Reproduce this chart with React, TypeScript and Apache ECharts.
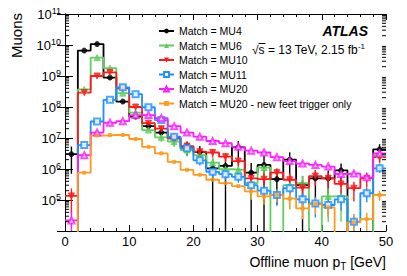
import React, { useEffect, useRef } from 'react';
import * as echarts from 'echarts';

// Histogram binning: 25 bins of 2 GeV from 0 to 50 GeV
const BIN_START = 0;
const BIN_WIDTH = 2;

// Muon counts per bin (0 = empty bin)
const mu4 = [3.0e6, 6.6e9, 1.07e10, 8.9e8, 1.5e8, 4.9e7, 2.4e7, 1.5e7, 9.8e6, 5.2e6, 3.5e6, 1.05e6, 1.26e6, 5.0e6, 7.6e5, 1.35e6, 4.7e5, 2.0e6, 3.0e5, 5.0e5, 5.0e5, 9.0e5, 0, 0, 4.3e6];
const mu4Err = [2.3e6, 0, 0, 0, 0, 0, 4e6, 5e6, 4e6, 2.5e6, 2e6, 1.1e6, 1.3e6, 3e6, 8e5, 1.4e6, 4e5, 1.5e6, 3e5, 4e5, 4e5, 6e5, 0, 0, 2e6];

const mu6 = [0, 3.7e8, 3.9e9, 1.8e9, 2.8e8, 6.6e7, 1.8e7, 1.05e7, 7.6e6, 4.1e6, 2.8e6, 1.6e6, 9.8e5, 9.4e5, 3.5e5, 1.1e6, 0, 3.0e5, 3.5e5, 0, 1.3e5, 1.3e5, 0, 0, 2.8e6];
const mu6Err = [0, 0, 0, 0, 0, 0, 0, 3e6, 2.5e6, 1.5e6, 1.2e6, 8e5, 5e5, 5e5, 2.5e5, 6e5, 0, 2.5e5, 2.5e5, 0, 1.1e5, 1.1e5, 0, 0, 1.5e6];

const mu10 = [1.35e5, 2.9e8, 1.0e9, 1.3e9, 4.0e8, 1.0e8, 3.0e7, 2.0e7, 1.0e7, 5.5e6, 3.6e6, 3.4e6, 2.5e6, 1.8e6, 5.0e5, 4.7e5, 7.6e5, 4.5e5, 2.5e5, 5.9e5, 5.0e5, 3.3e5, 2.4e5, 5.0e5, 2.4e6];
const mu10Err = [1e5, 0, 0, 0, 0, 0, 5e6, 4e6, 3e6, 1.5e6, 1e6, 1e6, 8e5, 6e5, 2.5e5, 2.5e5, 3e5, 3e5, 1.8e5, 3e5, 2.5e5, 2e5, 1.5e5, 2.5e5, 8e5];

const mu11 = [0, 5.9e6, 3.4e7, 1.7e8, 4.3e8, 2.6e8, 9.8e7, 3.8e7, 1.1e7, 4.7e6, 1.9e6, 8.1e5, 6.8e5, 5.6e5, 3.0e5, 2.0e5, 1.45e5, 2.4e5, 1.05e5, 7.7e4, 6.9e4, 1.05e5, 2.0e4, 1.65e5, 1.05e6];
const mu11Err = [0, 0, 0, 0, 0, 0, 0, 0, 2e6, 1.2e6, 6e5, 3e5, 2.5e5, 2e5, 1.3e5, 1e5, 8e4, 1.2e5, 6e4, 5e4, 4e4, 6e4, 1.5e4, 8e4, 3e5];

const mu20 = [2.2e4, 2.8e6, 1.5e7, 3.1e7, 3.5e7, 5.5e7, 5.5e7, 4.4e7, 2.4e7, 1.5e7, 1.1e7, 8.0e6, 6.8e6, 5.2e6, 3.9e6, 3.4e6, 2.4e6, 1.8e6, 1.5e6, 1.35e6, 1.2e6, 6.9e5, 7.2e5, 5.4e5, 3.2e6];
const mu20Err = [2e4, 0, 0, 0, 0, 0, 0, 0, 0, 0, 0, 0, 0, 0, 0, 0, 3e5, 2.5e5, 2e5, 2e5, 2e5, 1.5e5, 1.5e5, 1.5e5, 5e5];

const mu20new = [0, 7.6e5, 1.2e7, 1.25e7, 1.25e7, 9.3e6, 5.2e6, 3.2e6, 1.7e6, 9.4e5, 6.5e5, 4.5e5, 3.5e5, 2.8e5, 1.9e5, 1.3e5, 1.45e5, 1.1e5, 5.4e4, 7.4e4, 5.8e4, 0, 1.9e4, 2.4e4, 1.45e5];
const mu20newErr = [0, 0, 0, 0, 0, 0, 0, 0, 0, 0, 0, 0, 0, 0, 8e4, 6e4, 6e4, 6e4, 3e4, 4e4, 3e4, 0, 1.5e4, 1.5e4, 5e4];

const seriesNames = [
  'Match = MU4',
  'Match = MU6',
  'Match = MU10',
  'Match = MU11',
  'Match = MU20',
  'Match = MU20 - new feet trigger only',
];

const X_MIN = 0;
const X_MAX = 50;
const X_INTERVAL = 10;
const Y_MIN = 1e4;
const Y_MAX = 1e11;

const FONT = '"Liberation Sans", Arial, Helvetica, sans-serif';

const styles = [
  { color: '#000000', symbol: 'circle', size: 5, rotate: 0 },
  { color: '#5fcf5f', symbol: 'triangle', size: 6, rotate: 0 },
  { color: '#ff1a1a', symbol: 'triangle', size: 6, rotate: 180 },
  { color: '#1e90ff', symbol: 'emptyRect', size: 6, rotate: 0 },
  { color: '#ff1aff', symbol: 'emptyTriangle', size: 6, rotate: 0 },
  { color: '#ff9a1a', symbol: 'rect', size: 3, rotate: 0 },
];

const dataSets = [
  { values: mu4, errors: mu4Err },
  { values: mu6, errors: mu6Err },
  { values: mu10, errors: mu10Err },
  { values: mu11, errors: mu11Err },
  { values: mu20, errors: mu20Err },
  { values: mu20new, errors: mu20newErr },
];

function buildOption() {
  const series: any[] = [];
  const below = Y_MIN / 1e4; // stand-in for empty bins, outside the plotted range

  dataSets.forEach((ds, k) => {
    const st = styles[k];
    const pts: number[][] = ds.values.map((v, i) => [BIN_START + i * BIN_WIDTH, v > 0 ? v : below]);
    const last = ds.values[ds.values.length - 1];
    pts.push([BIN_START + ds.values.length * BIN_WIDTH, last > 0 ? last : below]);
    series.push({
      name: seriesNames[k],
      type: 'line',
      step: 'end',
      data: pts,
      symbol: st.symbol,
      symbolSize: st.size,
      symbolRotate: st.rotate,
      showSymbol: false,
      lineStyle: { color: st.color, width: 1.8 },
      itemStyle: { color: st.color },
      clip: true,
      silent: true,
      z: 2,
    });
  });

  dataSets.forEach((ds, k) => {
    const st = styles[k];
    const errData = ds.values
      .map((v, i) => [BIN_START + (i + 0.5) * BIN_WIDTH, v, ds.errors[i]])
      .filter((d) => d[1] > 0 && d[2] > 0);
    series.push({
      name: 'err' + k,
      type: 'custom',
      data: errData,
      encode: { x: 0, y: 1 },
      silent: true,
      z: 3,
      renderItem: (params: any, api: any) => {
        const cs = params.coordSys;
        const x = api.value(0);
        const v = api.value(1);
        const e = api.value(2);
        const top = api.coord([x, v + e]);
        const lo = v - e;
        let yb = lo > 0 ? api.coord([x, lo])[1] : cs.y + cs.height;
        yb = Math.min(yb, cs.y + cs.height);
        const yt = Math.max(top[1], cs.y);
        return {
          type: 'line',
          shape: { x1: top[0], y1: yt, x2: top[0], y2: yb },
          style: { stroke: st.color, lineWidth: 1.4 },
        };
      },
    });
  });

  dataSets.forEach((ds, k) => {
    const st = styles[k];
    const pts = ds.values
      .map((v, i) => [BIN_START + (i + 0.5) * BIN_WIDTH, v])
      .filter((d) => d[1] > 0);
    series.push({
      name: 'mk' + k,
      type: 'scatter',
      data: pts,
      symbol: st.symbol,
      symbolSize: st.size,
      symbolRotate: st.rotate,
      itemStyle: { color: st.color, borderColor: st.color, borderWidth: 1 },
      silent: true,
      z: 4,
    });
  });

  // ROOT-style log minor ticks (2..9 x 10^n) on left and right y axes
  const minorVals: number[][] = [];
  for (let d = Math.round(Math.log10(Y_MIN)); d < Math.round(Math.log10(Y_MAX)); d++) {
    for (let m = 2; m <= 9; m++) minorVals.push([0, m * Math.pow(10, d)]);
  }
  series.push({
    name: 'minorTicks',
    type: 'custom',
    data: minorVals,
    encode: { x: 0, y: 1 },
    silent: true,
    z: 5,
    renderItem: (params: any, api: any) => {
      const cs = params.coordSys;
      const y = api.coord([0, api.value(1)])[1];
      return {
        type: 'group',
        children: [
          { type: 'line', shape: { x1: cs.x, y1: y, x2: cs.x + 4, y2: y }, style: { stroke: '#000', lineWidth: 1 } },
          { type: 'line', shape: { x1: cs.x + cs.width - 4, y1: y, x2: cs.x + cs.width, y2: y }, style: { stroke: '#000', lineWidth: 1 } },
        ],
      };
    },
  });

  const axisLine = { show: true, lineStyle: { color: '#000', width: 1 } };

  return {
    animation: false,
    backgroundColor: '#ffffff',
    grid: { left: 65, right: 21, top: 14, bottom: 45, containLabel: false },
    legend: {
      data: seriesNames,
      orient: 'vertical',
      left: 153,
      top: 20,
      itemWidth: 15,
      itemHeight: 6,
      itemGap: 2.5,
      selectedMode: false,
      textStyle: { fontFamily: FONT, fontSize: 10.5, color: '#000', lineHeight: 12 },
    },
    xAxis: [
      {
        type: 'value',
        min: X_MIN,
        max: X_MAX,
        interval: X_INTERVAL,
        axisLine,
        axisTick: { show: true, inside: true, length: 6, lineStyle: { color: '#000' } },
        minorTick: { show: true, splitNumber: 5, length: 3, lineStyle: { color: '#000' } },
        splitLine: { show: false },
        axisLabel: { fontFamily: FONT, fontSize: 13, color: '#000', margin: 4 },
      },
      {
        type: 'value',
        position: 'top',
        min: X_MIN,
        max: X_MAX,
        interval: X_INTERVAL,
        axisLine,
        axisTick: { show: true, inside: true, length: 6, lineStyle: { color: '#000' } },
        minorTick: { show: true, splitNumber: 5, length: 3, lineStyle: { color: '#000' } },
        splitLine: { show: false },
        axisLabel: { show: false },
      },
    ],
    yAxis: [
      {
        type: 'log',
        logBase: 10,
        min: Y_MIN,
        max: Y_MAX,
        splitNumber: 7,
        axisLine,
        axisTick: { show: true, inside: true, length: 8, lineStyle: { color: '#000' } },
        splitLine: { show: false },
        axisLabel: {
          margin: 4,
          showMinLabel: false,
          formatter: (v: number) => `{b|10}{s|${Math.round(Math.log10(v))}}`,
          rich: {
            b: { fontFamily: FONT, fontSize: 13, color: '#000' },
            s: { fontFamily: FONT, fontSize: 9, color: '#000', padding: [0, 0, 7, 0] },
          },
        },
      },
      {
        type: 'log',
        logBase: 10,
        position: 'right',
        min: Y_MIN,
        max: Y_MAX,
        splitNumber: 7,
        axisLine,
        axisTick: { show: true, inside: true, length: 8, lineStyle: { color: '#000' } },
        splitLine: { show: false },
        axisLabel: { show: false },
      },
    ],
    graphic: [
      {
        type: 'text',
        x: 16,
        y: 13,
        rotation: Math.PI / 2,
        style: { text: 'Muons', fontFamily: FONT, fontSize: 15, fill: '#000', align: 'right', verticalAlign: 'middle' },
      },
      {
        type: 'text',
        x: 386,
        y: 262,
        style: {
          text: 'Offline muon p{sub|T} [GeV]',
          fontFamily: FONT,
          fontSize: 14,
          fill: '#000',
          align: 'right',
          verticalAlign: 'middle',
          rich: {
            sub: { fontFamily: FONT, fontSize: 10, fill: '#000', padding: [8, 0, 0, 0] },
          },
        },
      },
      {
        type: 'text',
        x: 368,
        y: 31,
        style: { text: 'ATLAS', fontFamily: FONT, fontSize: 14, fontWeight: 'bold', fontStyle: 'italic', fill: '#000', align: 'right', verticalAlign: 'middle' },
      },
      {
        type: 'text',
        x: 252,
        y: 50,
        style: {
          text: '√s = 13 TeV, 2.15 fb{sup|-1}',
          fontFamily: FONT,
          fontSize: 12,
          fill: '#000',
          align: 'left',
          verticalAlign: 'middle',
          rich: {
            sup: { fontFamily: FONT, fontSize: 8, fill: '#000', padding: [0, 0, 7, 0] },
          },
        },
      },
      {
        type: 'line',
        shape: { x1: 258.5, y1: 43.5, x2: 265.5, y2: 43.5 },
        style: { stroke: '#000', lineWidth: 1 },
      },
    ],
    series,
  };
}

export default function App() {
  const ref = useRef<HTMLDivElement>(null);
  useEffect(() => {
    if (!ref.current) return;
    const chart = echarts.init(ref.current, null, { renderer: 'svg' });
    chart.setOption(buildOption() as any);
    return () => chart.dispose();
  }, []);
  return (
    <div
      ref={ref}
      style={{ position: 'fixed', left: 0, top: 0, width: 407, height: 276, background: '#fff' }}
    />
  );
}
